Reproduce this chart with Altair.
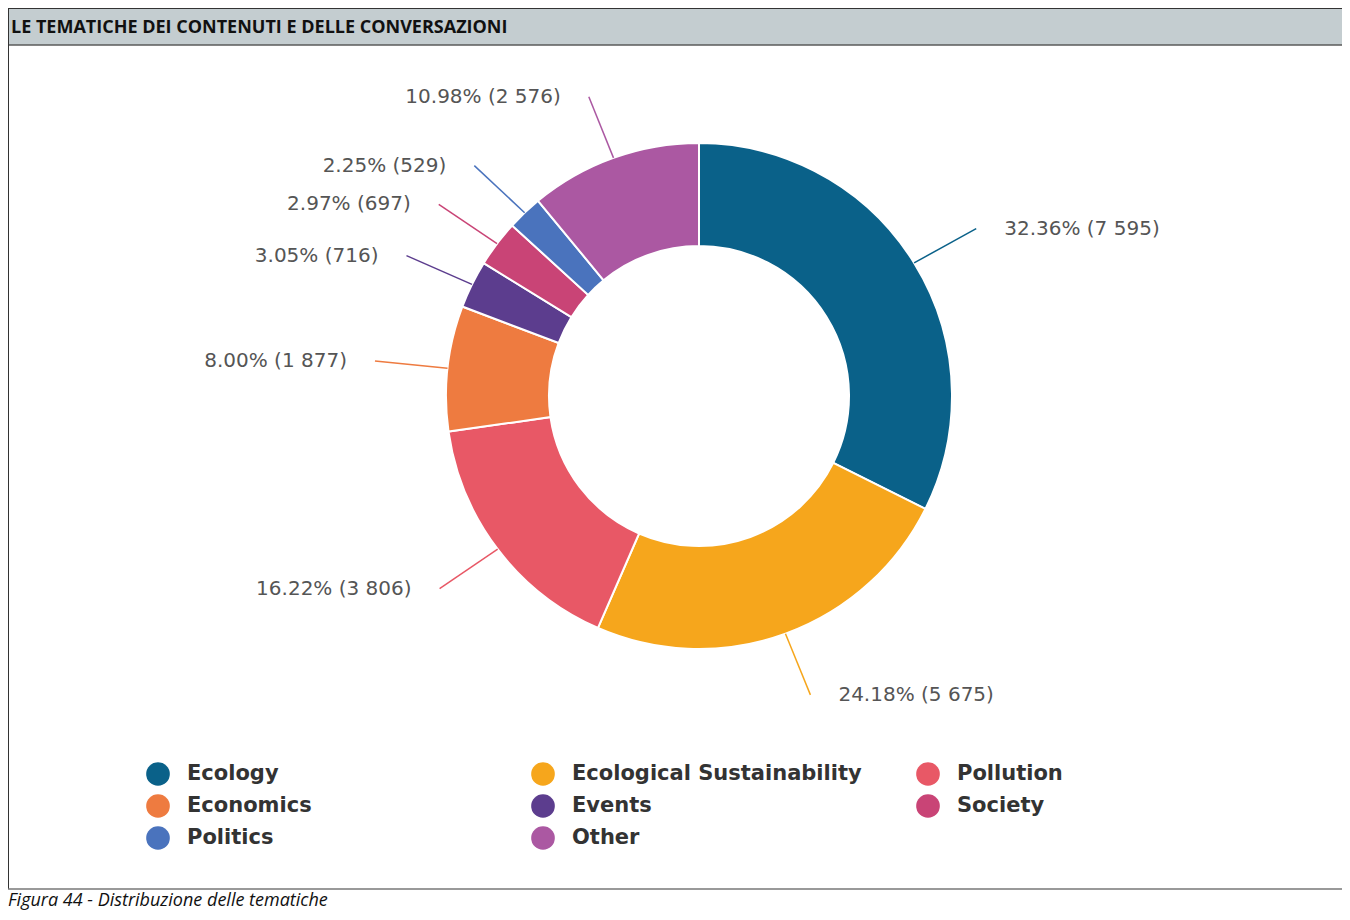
import altair as alt
import pandas as pd

# ---- data ----
categories = ["Ecology", "Ecological Sustainability", "Pollution", "Economics",
              "Events", "Society", "Politics", "Other"]
counts = [7595, 5675, 3806, 1877, 716, 697, 529, 2576]
percents = [32.36, 24.18, 16.22, 8.00, 3.05, 2.97, 2.25, 10.98]
colors = ["#0a6189", "#f6a61c", "#e85866", "#ee7b40",
          "#5c3d8e", "#c94476", "#4a73bd", "#ab58a2"]

title_text = "LE TEMATICHE DEI CONTENUTI E DELLE CONVERSAZIONI"
caption_text = "Figura 44 -  Distribuzione delle tematiche"

# ---- layout ----
W, H = 1334, 904
CX, CY = 691, 388
R_IN, R_OUT = 150, 253
R_LX, R_LY = 326, 318
GAP = 28


def fmt(n):
    return f"{n:,}".replace(",", " ")


df = pd.DataFrame({
    "category": categories,
    "count": counts,
    "order": list(range(len(categories))),
    "label": [f"{p:.2f}% ({fmt(c)})" for p, c in zip(percents, counts)],
})
one = pd.DataFrame({"a": [0]})

color = alt.Color("category:N", scale=alt.Scale(domain=categories, range=colors), legend=None)
xs = alt.Scale(domain=[0, W], range=[0, W])
ys = alt.Scale(domain=[0, H], range=[0, H])

base = alt.Chart(df)

arc = base.mark_arc(innerRadius=R_IN, outerRadius=R_OUT, stroke="white", strokeWidth=2).encode(
    theta=alt.Theta("count:Q", stack=True),
    order=alt.Order("order:Q"),
    color=color,
    x=alt.value(CX),
    y=alt.value(CY),
)

geo = base.transform_window(
    cum="sum(count)", sort=[alt.SortField("order")], frame=[None, 0]
).transform_joinaggregate(
    total="sum(count)"
).transform_calculate(
    mid="2*PI*(datum.cum - datum.count/2)/datum.total"
).transform_calculate(
    x0=f"{CX} + {R_OUT}*sin(datum.mid)",
    y0=f"{CY} - {R_OUT}*cos(datum.mid)",
    x1=f"{CX} + {R_LX}*sin(datum.mid)",
    y1=f"{CY} - {R_LY}*cos(datum.mid)",
    side="sin(datum.mid) >= 0 ? 1 : -1",
).transform_calculate(
    lx=f"datum.x1 + datum.side*{GAP}"
)

leaders = geo.mark_rule(strokeWidth=1.5).encode(
    x=alt.X("x0:Q", scale=xs, axis=None),
    y=alt.Y("y0:Q", scale=ys, axis=None),
    x2="x1:Q",
    y2="y1:Q",
    color=color,
)

lbl_style = dict(font="DejaVu Sans", fontSize=20, color="#555555", baseline="middle")
labels_right = geo.transform_filter("datum.side > 0").mark_text(align="left", **lbl_style).encode(
    x=alt.X("lx:Q", scale=xs, axis=None),
    y=alt.Y("y1:Q", scale=ys, axis=None),
    text="label:N",
)
labels_left = geo.transform_filter("datum.side < 0").mark_text(align="right", **lbl_style).encode(
    x=alt.X("lx:Q", scale=xs, axis=None),
    y=alt.Y("y1:Q", scale=ys, axis=None),
    text="label:N",
)

# ---- legend (3 columns, row-major) ----
leg = base.transform_calculate(
    lgx="150 + (datum.order % 3)*385",
    lgy="766 + floor(datum.order / 3)*32",
)
leg_pts = leg.mark_point(filled=True, shape="circle", size=560, opacity=1).encode(
    x=alt.X("lgx:Q", scale=xs, axis=None),
    y=alt.Y("lgy:Q", scale=ys, axis=None),
    color=color,
)
leg_txt = leg.mark_text(align="left", baseline="middle", dx=29, font="DejaVu Sans",
                        fontWeight="bold", fontSize=21, color="#333333").encode(
    x=alt.X("lgx:Q", scale=xs, axis=None),
    y=alt.Y("lgy:Q", scale=ys, axis=None),
    text="category:N",
)

# ---- frame, header, caption ----
one_c = alt.Chart(one)
header_band = one_c.mark_rect(color="#c4cdd0").encode(
    x=alt.value(0), x2=alt.value(W), y=alt.value(0), y2=alt.value(37))
header_bottom = one_c.mark_rule(color="#5a5a5a", strokeWidth=1.5).encode(
    x=alt.value(0), x2=alt.value(W), y=alt.value(37))
header_top = one_c.mark_rule(color="#333333", strokeWidth=1).encode(
    x=alt.value(0), x2=alt.value(W), y=alt.value(0.5))
left_border = one_c.mark_rule(color="#333333", strokeWidth=1).encode(
    x=alt.value(0.5), y=alt.value(0), y2=alt.value(881))
bottom_line = one_c.mark_rule(color="#777777", strokeWidth=1.5).encode(
    x=alt.value(0), x2=alt.value(W), y=alt.value(881))
header_txt = one_c.mark_text(align="left", baseline="middle", font="Open Sans",
                             fontWeight="bold", fontSize=18, color="#111111").encode(
    x=alt.value(3), y=alt.value(20), text=alt.value(title_text))
caption = one_c.mark_text(align="left", baseline="alphabetic", font="Open Sans",
                          fontStyle="italic", fontSize=18, color="#111111").encode(
    x=alt.value(0), y=alt.value(898), text=alt.value(caption_text))

chart = alt.layer(
    header_band, header_top, header_bottom, left_border, bottom_line, header_txt, caption,
    arc, leaders, labels_right, labels_left, leg_pts, leg_txt,
).properties(
    width=W, height=H, padding=0, autosize=alt.AutoSizeParams(type="none"),
).configure_view(stroke=None)

chart.save("out.html", embed_options={"renderer": "svg", "actions": False})
